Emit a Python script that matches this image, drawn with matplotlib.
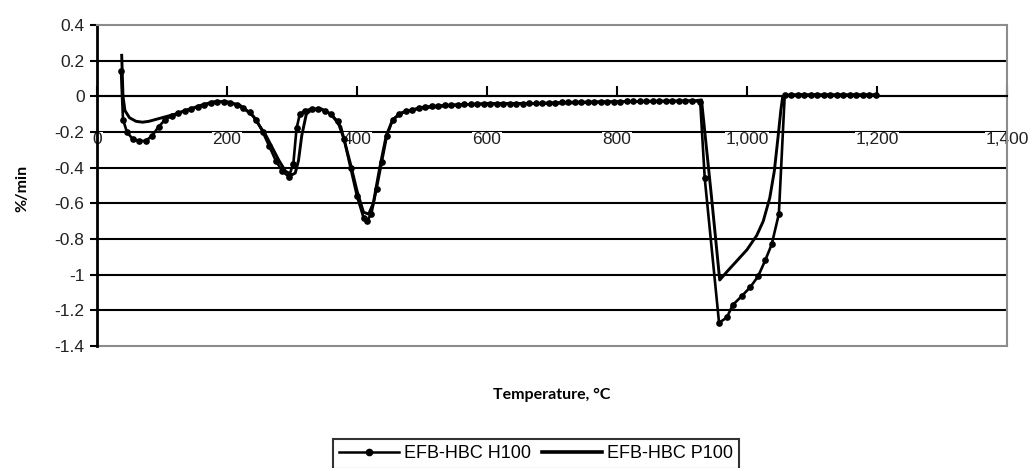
import matplotlib
matplotlib.use("Agg")
import matplotlib.pyplot as plt
from matplotlib.ticker import FuncFormatter, MultipleLocator
from matplotlib.lines import Line2D

plt.rcParams['font.family'] = ['Liberation Sans', 'DejaVu Sans']
plt.rcParams['axes.unicode_minus'] = False

# ── DTG data ────────────────────────────────────────────────────────────────
h100_temp = [37, 40, 46, 55, 65, 75, 85, 95, 105, 115, 125, 135, 145, 155, 165,
             175, 185, 195, 205, 215, 225, 235, 245, 255, 265, 275, 285, 295,
             302, 307, 312, 320, 330, 340, 350, 360, 370, 380, 390, 400, 410,
             415, 422, 430, 438, 446, 455, 465, 475, 485, 495,
             505, 515, 525, 535, 545, 555, 565, 575, 585, 595, 605, 615, 625,
             635, 645, 655, 665, 675, 685, 695, 705, 715, 725, 735, 745, 755,
             765, 775, 785, 795, 805, 815, 825, 835, 845, 855, 865, 875, 885,
             895, 905, 915, 928, 935, 957, 969, 978, 992, 1005, 1017, 1028,
             1038, 1049, 1058, 1068, 1078, 1088, 1098, 1108, 1118, 1128, 1138,
             1148, 1158, 1168, 1178, 1188, 1198]
h100_rate = [0.14, -0.13, -0.20, -0.24, -0.25, -0.25, -0.22, -0.17, -0.13, -0.11,
             -0.095, -0.08, -0.07, -0.06, -0.05, -0.04, -0.03, -0.03, -0.035,
             -0.05, -0.065, -0.09, -0.13, -0.20, -0.28, -0.36, -0.42, -0.45,
             -0.38, -0.18, -0.10, -0.08, -0.07, -0.07, -0.08, -0.10, -0.14,
             -0.24, -0.40, -0.56, -0.68, -0.70, -0.66, -0.52, -0.37, -0.22,
             -0.13, -0.10, -0.085, -0.075, -0.065,
             -0.060, -0.055, -0.052, -0.050, -0.048, -0.046, -0.045, -0.045,
             -0.044, -0.044, -0.043, -0.043, -0.042, -0.042, -0.041, -0.041,
             -0.040, -0.040, -0.038, -0.036, -0.035, -0.034, -0.033, -0.032,
             -0.032, -0.031, -0.030, -0.030, -0.030, -0.029, -0.029, -0.028,
             -0.028, -0.028, -0.027, -0.027, -0.027, -0.026, -0.026, -0.026,
             -0.025, -0.025, -0.03, -0.46, -1.27, -1.24, -1.17, -1.12, -1.07,
             -1.01, -0.92, -0.83, -0.66, 0.005, 0.01, 0.01, 0.01, 0.01, 0.01,
             0.01, 0.01, 0.01, 0.01, 0.01, 0.01, 0.01, 0.01, 0.01]

p100_temp = [38, 40, 43, 50, 60, 70, 80, 90, 100, 120, 140, 160, 180, 200, 220,
             240, 260, 280, 290, 300, 305, 310, 315, 322, 330, 345, 360, 375,
             390, 400, 410, 418, 425, 435, 445, 455, 470, 500, 550, 600, 700,
             800, 920, 930, 945, 958, 970, 985, 1000, 1015, 1025, 1035, 1042,
             1048, 1052, 1055, 1065]
p100_rate = [0.23, 0.0, -0.08, -0.12, -0.14, -0.145, -0.14, -0.13, -0.12, -0.10,
             -0.075, -0.05, -0.03, -0.03, -0.05, -0.11, -0.22, -0.36, -0.42,
             -0.44, -0.43, -0.36, -0.22, -0.10, -0.075, -0.07, -0.10, -0.17,
             -0.38, -0.53, -0.65, -0.66, -0.60, -0.40, -0.22, -0.13, -0.09,
             -0.065, -0.05, -0.04, -0.04, -0.03, -0.025, -0.02, -0.55, -1.03,
             -0.98, -0.92, -0.86, -0.78, -0.70, -0.57, -0.42, -0.22, -0.08,
             0.0, 0.005]

series_labels = ['EFB-HBC H100', 'EFB-HBC P100']
y_ticks = [0.4, 0.2, 0, -0.2, -0.4, -0.6, -0.8, -1, -1.2, -1.4]

fig = plt.figure(figsize=(10.30, 4.68), dpi=100)
ax = fig.add_axes([97 / 1030, 1 - 346 / 468, 910 / 1030, 321 / 468])

ax.plot(h100_temp, h100_rate, color='black', lw=1.9, marker='o', ms=3.8,
        zorder=4, label=series_labels[0])
ax.plot(p100_temp, p100_rate, color='black', lw=2.1, zorder=4,
        label=series_labels[1])

ax.set_xlim(0, 1400)
ax.set_ylim(-1.4, 0.4)

# horizontal gridlines (Excel style)
for v in y_ticks[1:-1]:
    ax.axhline(v, color='black', lw=1.5, zorder=1)
ax.axhline(-1.4, color='#8c8c8c', lw=1.5, zorder=1, clip_on=False)

ax.spines['top'].set_color('#8c8c8c')
ax.spines['right'].set_color('#8c8c8c')
ax.spines['top'].set_linewidth(1.5)
ax.spines['right'].set_linewidth(1.5)
ax.spines['left'].set_linewidth(2)
ax.spines['bottom'].set_position(('data', 0))
ax.spines['bottom'].set_linewidth(1.5)

ax.xaxis.set_major_locator(MultipleLocator(200))
ax.xaxis.set_major_formatter(FuncFormatter(lambda x, _: f'{x:,.0f}'))
ax.tick_params(axis='x', direction='in', length=7, width=1.5, pad=26,
               labelsize=12.5, labelcolor='#222222')
ax.set_yticks(y_ticks)
ax.yaxis.set_major_formatter(FuncFormatter(lambda v, _: f'{v:g}'))
ax.tick_params(axis='y', direction='out', length=5, width=1.5,
               labelsize=12.5, labelcolor='#222222', pad=4)
for lab in ax.get_xticklabels():
    lab.set_bbox(dict(facecolor='white', edgecolor='none', pad=0.5))

fig.text(552 / 1030, 1 - 395 / 468, 'Temperature, °C', ha='center', va='center',
         fontsize=11.5, fontweight='bold', family=['Lato', 'DejaVu Sans'])
fig.text(22 / 1030, 1 - 188 / 468, '%/min', ha='center', va='center',
         rotation=90, fontsize=11.5, fontweight='bold', family=['Lato', 'DejaVu Sans'])

handles = [Line2D([], [], color='black', lw=1.8, marker='o', ms=4.5),
           Line2D([], [], color='black', lw=2.6)]
leg = fig.legend(handles, series_labels, loc='upper center', ncol=2,
                 bbox_to_anchor=(536 / 1030, 1 - 430 / 468), frameon=True,
                 fancybox=False, fontsize=13, handlelength=3.3,
                 handletextpad=0.3, columnspacing=0.6, borderpad=0.35)
leg.get_frame().set_edgecolor('black')
leg.get_frame().set_linewidth(1.5)

fig.savefig('out.png', dpi=100)
